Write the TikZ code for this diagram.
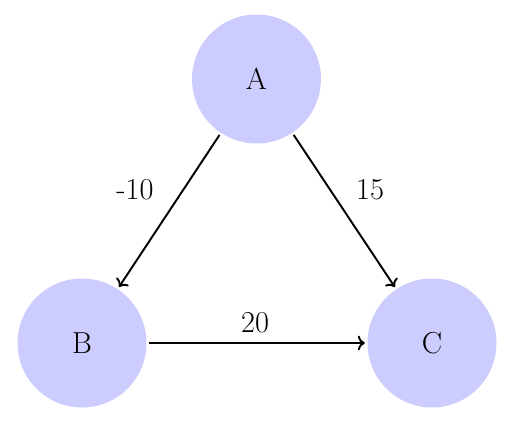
\documentclass[tikz,border=0pt]{standalone}
\usetikzlibrary{arrows.meta}

\begin{document}
\begin{tikzpicture}[
  vert/.style={circle, fill=blue!20, minimum size=2.58cm, inner sep=0pt, outer sep=1.5pt, font=\LARGE},
  wgt/.style={font=\LARGE},
  edge/.style={->, line width=1.1pt}
]
  \useasboundingbox (0,0) rectangle (10.2,8.4);

  % vertices
  \node[vert] (A) at (5.13,6.82) {A};
  \node[vert] (B) at (1.64,1.54) {B};
  \node[vert] (C) at (8.64,1.54) {C};

  % weighted edges
  \draw[edge] (A) -- (B);
  \draw[edge] (A) -- (C);
  \draw[edge] (B) -- (C);

  % weights
  \node[wgt] (wab) at (2.70,4.60) {-10};
  \node[wgt] (wac) at (7.40,4.60) {15};
  \node[wgt] (wbc) at (5.10,1.94) {20};
\end{tikzpicture}
\end{document}
